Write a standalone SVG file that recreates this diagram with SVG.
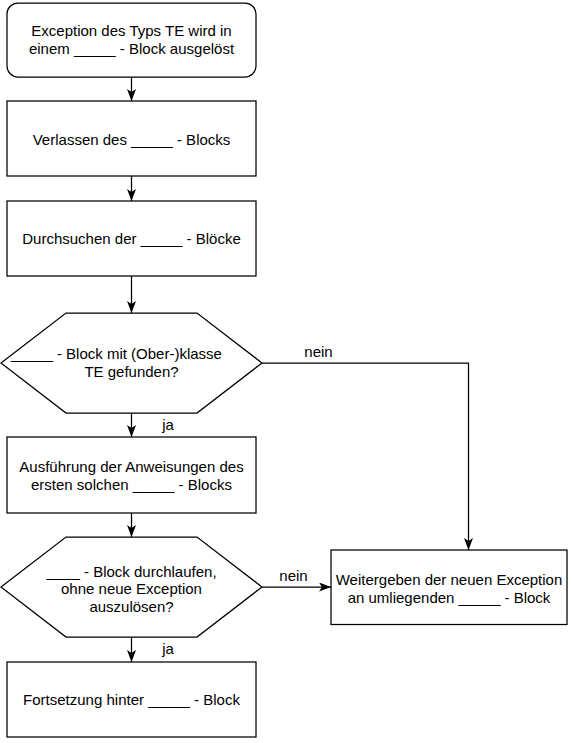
<svg xmlns="http://www.w3.org/2000/svg" width="572" height="743" viewBox="0 0 572 743">
<defs>
<style>
.n{fill:#fff;stroke:#000;stroke-width:1.25}
.t{font-family:"Liberation Sans",Arial,sans-serif;font-size:15px;fill:#000;text-anchor:middle}
.c{fill:none;stroke:#000;stroke-width:1.25}
</style>
<marker id="a" markerUnits="userSpaceOnUse" markerWidth="12" markerHeight="9" viewBox="0 0 12 9" refX="12" refY="4.5" orient="auto">
<path d="M0,0 L12,4.5 L0,9 L3,4.5 Z" fill="#000"/>
</marker>
</defs>
<rect width="572" height="743" fill="#fff"/>
<g id="connectors">
<path class="c" d="M131.5,77 V101" marker-end="url(#a)"/>
<path class="c" d="M131.5,176 V201" marker-end="url(#a)"/>
<path class="c" d="M131.5,276 V313" marker-end="url(#a)"/>
<path class="c" d="M131.5,413 V437" marker-end="url(#a)"/>
<path class="c" d="M131.5,513 V537" marker-end="url(#a)"/>
<path class="c" d="M131.5,637 V662" marker-end="url(#a)"/>
<path class="c" d="M262,363 H468.5 V550" marker-end="url(#a)"/>
<path class="c" d="M262,587 H331" marker-end="url(#a)"/>
<text class="t" x="318.5" y="357">nein</text>
<text class="t" x="168" y="430">ja</text>
<text class="t" x="293.5" y="581">nein</text>
<text class="t" x="168" y="654">ja</text>
</g>
<g id="n1">
<rect class="n" x="7" y="3" width="249" height="74" rx="11"/>
<text class="t" x="131.5" y="36">Exception des Typs TE wird in</text>
<text class="t" x="131.5" y="54">einem _____ - Block ausgelöst</text>
</g>
<g id="n2">
<rect class="n" x="7" y="101" width="249" height="75"/>
<text class="t" x="131.5" y="145">Verlassen des _____ - Blocks</text>
</g>
<g id="n3">
<rect class="n" x="7" y="201" width="249" height="75"/>
<text class="t" x="131.5" y="244">Durchsuchen der _____ - Blöcke</text>
</g>
<g id="n4">
<polygon class="n" points="1,363 66,313 197,313 262,363 197,413 66,413"/>
<text class="t" x="116.5" y="359">_____ - Block mit (Ober-)klasse</text>
<text class="t" x="131.5" y="377">TE gefunden?</text>
</g>
<g id="n5">
<rect class="n" x="7" y="437" width="249" height="76"/>
<text class="t" x="131.5" y="472">Ausführung der Anweisungen des</text>
<text class="t" x="131.5" y="490">ersten solchen _____ - Blocks</text>
</g>
<g id="n6">
<polygon class="n" points="1,587 66,537 197,537 262,587 197,637 66,637"/>
<text class="t" x="131.5" y="577">____ - Block durchlaufen,</text>
<text class="t" x="131.5" y="594">ohne neue Exception</text>
<text class="t" x="131.5" y="612">auszulösen?</text>
</g>
<g id="n7">
<rect class="n" x="7" y="662" width="249" height="75"/>
<text class="t" x="131.5" y="705">Fortsetzung hinter _____ - Block</text>
</g>
<g id="n8">
<rect class="n" x="331" y="550" width="236" height="74.5"/>
<text class="t" x="449" y="584.5">Weitergeben der neuen Exception</text>
<text class="t" x="449" y="602.5">an umliegenden _____ - Block</text>
</g>
</svg>
